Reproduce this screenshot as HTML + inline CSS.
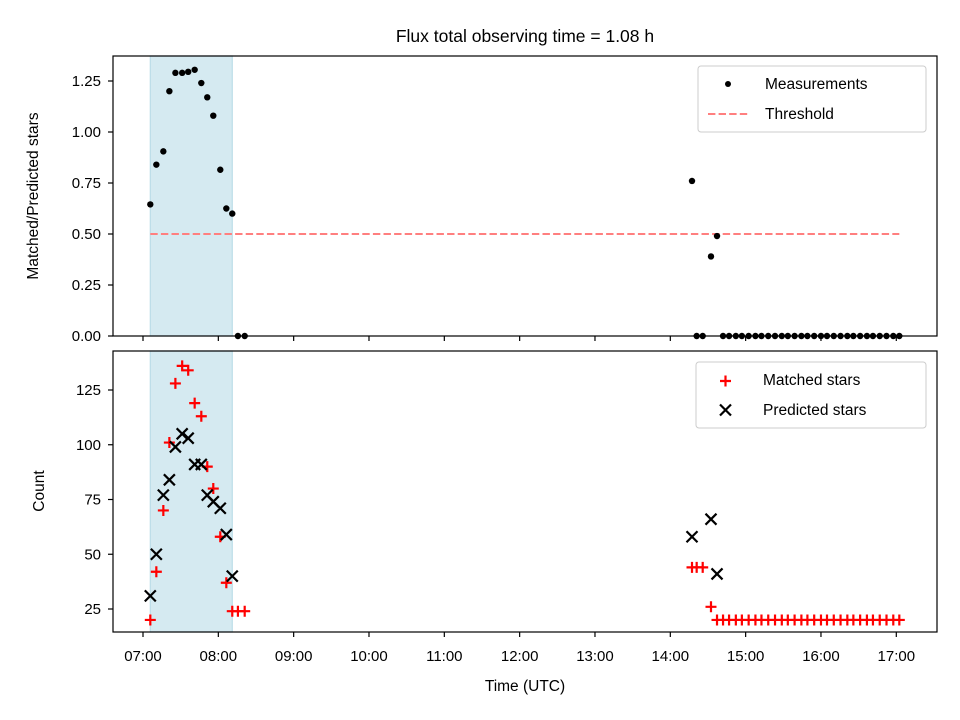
<!DOCTYPE html>
<html><head><meta charset="utf-8"><style>
body{margin:0;background:#fff;}
svg{display:block;font-family:"Liberation Sans","DejaVu Sans",sans-serif;}
</style></head><body>
<svg id="fig" width="960" height="720" viewBox="0 0 960 720"></svg>
<script>
// ---- data ----
const ratioTimes=[7.097,7.177,7.27,7.35,7.43,7.52,7.60,7.686,7.774,7.853,7.933,8.026,8.106,8.185,8.26,8.35,
14.288,14.35,14.43,14.54,14.62,
14.70,14.78,14.87,14.95,15.04,15.13,15.21,15.30,15.39,15.48,15.56,15.65,15.74,15.82,15.91,16.00,16.08,16.17,16.26,16.35,16.43,16.52,16.61,16.69,16.78,16.87,16.96,17.04];
const ratioValues=[0.645,0.84,0.905,1.20,1.29,1.29,1.295,1.305,1.24,1.17,1.08,0.815,0.625,0.60,0,0,
0.76,0,0,0.39,0.49,
0,0,0,0,0,0,0,0,0,0,0,0,0,0,0,0,0,0,0,0,0,0,0,0,0,0,0,0];
const matchedValues=[20,42,70,101,128,136,134,119,113,90,80,58,37,24,24,24,
44,44,44,26,20,
20,20,20,20,20,20,20,20,20,20,20,20,20,20,20,20,20,20,20,20,20,20,20,20,20,20,20,20];
const predTimes=[7.097,7.177,7.27,7.35,7.43,7.52,7.60,7.686,7.774,7.853,7.933,8.026,8.106,8.185,14.288,14.54,14.62];
const predValues=[31,50,77,84,99,105,103,91,91,77,74,71,59,40,58,66,41];
const threshold=0.5;
const thresholdRange=[7.097,17.04];
const spanRange=[7.097,8.185];
const xTickLabels=["07:00","08:00","09:00","10:00","11:00","12:00","13:00","14:00","15:00","16:00","17:00"];
const xTickHours=[7,8,9,10,11,12,13,14,15,16,17];
const topTicks=[0,0.25,0.5,0.75,1.0,1.25];
const topTickLabels=["0.00","0.25","0.50","0.75","1.00","1.25"];
const botTicks=[25,50,75,100,125];
// ---- layout ----
const L=113,R=937, T1=56,B1=336, T2=351,B2=632;
const xs=h=>143+(h-7)*75.33;
const y1=v=>336-v*204;
const y2=v=>609-(v-25)*2.19;
const NS="http://www.w3.org/2000/svg";
const svg=document.getElementById('fig');
function mk(tag,attrs,parent){const e=document.createElementNS(NS,tag);for(const k in attrs)e.setAttribute(k,attrs[k]);(parent||svg).appendChild(e);return e;}
function txt(s,attrs){const e=mk('text',attrs);e.textContent=s;return e;}

let t=txt("Flux total observing time = 1.08 h",{x:525,y:42,'text-anchor':'middle','font-size':17.5});


[[T1,B1],[T2,B2]].forEach(([a,b],i)=>{
  const r=mk('rect',{x:xs(spanRange[0]),y:a,width:xs(spanRange[1])-xs(spanRange[0]),height:b-a,fill:'#d5eaf1',stroke:'#bcdde8','stroke-width':1.2});
  
  
});

let th=mk('line',{x1:xs(thresholdRange[0]),x2:xs(thresholdRange[1]),y1:y1(threshold),y2:y1(threshold),stroke:'#ff7f7f','stroke-width':2,'stroke-dasharray':'7.4,3.2'});


ratioTimes.forEach((h,i)=>{
  const c=mk('circle',{cx:xs(h),cy:y1(ratioValues[i]),r:3.2,fill:'#000'});
  
});
ratioTimes.forEach((h,i)=>{
  const x=xs(h),y=y2(matchedValues[i]);
  const p=mk('path',{d:`M${x-5.5},${y}H${x+5.5}M${x},${y-5.5}V${y+5.5}`,stroke:'#f00','stroke-width':2.2});
  
});
predTimes.forEach((h,i)=>{
  const x=xs(h),y=y2(predValues[i]);
  const p=mk('path',{d:`M${x-5.5},${y-5.5}L${x+5.5},${y+5.5}M${x-5.5},${y+5.5}L${x+5.5},${y-5.5}`,stroke:'#000','stroke-width':2.2});
  
});

[[T1,B1],[T2,B2]].forEach(([a,b],i)=>{
  const r=mk('rect',{x:L,y:a,width:R-L,height:b-a,fill:'none',stroke:'#000','stroke-width':1.2});
  
});
xTickHours.forEach((h,i)=>{
  const x=xs(h);
  mk('line',{x1:x,x2:x,y1:B1,y2:B1+5,stroke:'#000','stroke-width':1.2});
  mk('line',{x1:x,x2:x,y1:B2,y2:B2+5,stroke:'#000','stroke-width':1.2});
  const l=txt(xTickLabels[i],{x:x,y:B2+29,'text-anchor':'middle','font-size':15});
  
});
topTicks.forEach((v,i)=>{
  const y=y1(v);
  mk('line',{x1:L-5,x2:L,y1:y,y2:y,stroke:'#000','stroke-width':1.2});
  const l=txt(topTickLabels[i],{x:L-12,y:y+5,'text-anchor':'end','font-size':15});
  
});
botTicks.forEach(v=>{
  const y=y2(v);
  mk('line',{x1:L-5,x2:L,y1:y,y2:y,stroke:'#000','stroke-width':1.2});
  const l=txt(String(v),{x:L-12,y:y+5,'text-anchor':'end','font-size':15});
  
});
let a=txt("Time (UTC)",{x:525,y:691,'text-anchor':'middle','font-size':15.5});

a=txt("Matched/Predicted stars",{x:0,y:0,'text-anchor':'middle','font-size':15.5,transform:`translate(38,196) rotate(-90)`});

a=txt("Count",{x:0,y:0,'text-anchor':'middle','font-size':15.5,transform:`translate(44,491) rotate(-90)`});


let lg=mk('rect',{x:698,y:66,width:228,height:66,rx:3,fill:'#fff','fill-opacity':0.8,stroke:'#ccc'});

mk('circle',{cx:728,cy:84,r:3,fill:'#000'});
let le=txt("Measurements",{x:765,y:89,'font-size':15.5});
mk('line',{x1:708,x2:748,y1:114,y2:114,stroke:'#ff7f7f','stroke-width':2,'stroke-dasharray':'7.4,3.2'});
le=txt("Threshold",{x:765,y:119,'font-size':15.5});

lg=mk('rect',{x:696,y:362,width:230,height:66,rx:3,fill:'#fff','fill-opacity':0.8,stroke:'#ccc'});

mk('path',{d:'M720,381H731M725.5,375.5V386.5',stroke:'#f00','stroke-width':2.2});
le=txt("Matched stars",{x:763,y:385,'font-size':15.5});
mk('path',{d:'M720,404.5L731,415.5M720,415.5L731,404.5',stroke:'#000','stroke-width':2.2});
le=txt("Predicted stars",{x:763,y:415,'font-size':15.5});
</script>
</body></html>
